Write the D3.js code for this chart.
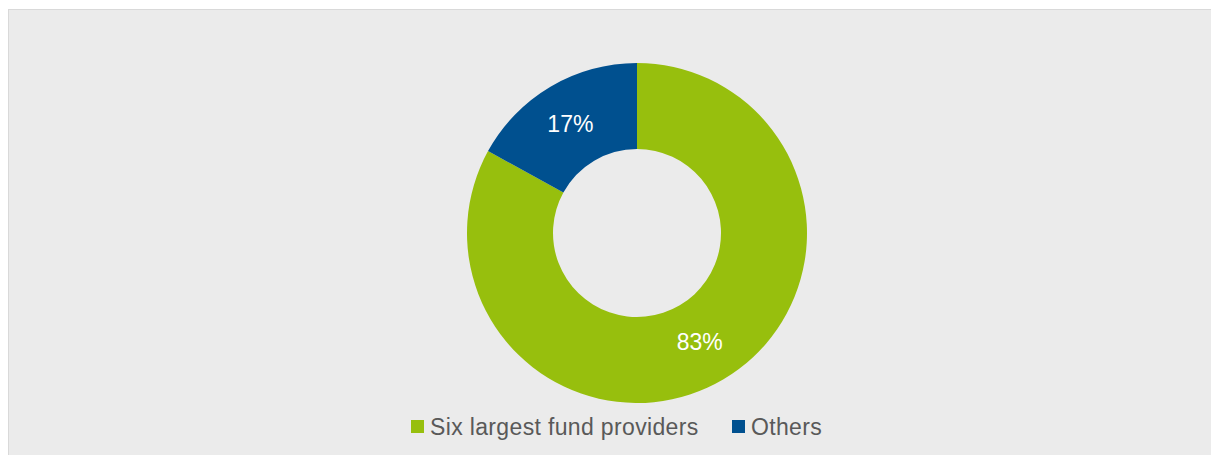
<!DOCTYPE html>
<html>
<head>
<meta charset="utf-8">
<script src="https://cdn.jsdelivr.net/npm/d3@7"></script>
<style>
  html, body { margin: 0; padding: 0; background: #ffffff; }
  svg { display: block; }
  text { font-family: "Liberation Sans", Arial, sans-serif; }
</style>
</head>
<body>
<svg id="chart" width="1211" height="455"></svg>
<script>
// Market share split
const categories = ["Six largest fund providers", "Others"];
const shares = [83, 17];
const sliceLabels = ["83%", "17%"];
const colors = ["#97bf0d", "#00508f"];

const svg = d3.select("#chart");
const W = 1211, H = 455;

// Panel background with a thin frame on top and left
svg.append("rect")
  .attr("x", 8.5).attr("y", 9.5)
  .attr("width", W).attr("height", H)
  .attr("fill", "#ebebeb")
  .attr("stroke", "#d9d9d9")
  .attr("stroke-width", 1);

const cx = 637, cy = 233;
const outerR = 170, innerR = 84;

const pie = d3.pie().sort(null).value(d => d)(shares);
const arc = d3.arc().innerRadius(innerR).outerRadius(outerR);
const labelArc = d3.arc().innerRadius((innerR + outerR) / 2).outerRadius((innerR + outerR) / 2);

const g = svg.append("g").attr("transform", `translate(${cx},${cy})`);

g.selectAll("path.slice")
  .data(pie)
  .join("path")
  .attr("class", "slice")
  .attr("d", arc)
  .attr("fill", (d, i) => colors[i]);

g.selectAll("text.val")
  .data(pie)
  .join("text")
  .attr("class", "val")
  .attr("transform", d => {
    const [x, y] = labelArc.centroid(d);
    return `translate(${x - 2},${y})`;
  })
  .attr("text-anchor", "middle")
  .attr("dy", "0.35em")
  .attr("fill", "#ffffff")
  .attr("font-size", 23)
  .text((d, i) => sliceLabels[i]);

// Legend
const legend = svg.append("g");
const legendX = [411, 732];
const items = legend.selectAll("g.item")
  .data(categories)
  .join("g")
  .attr("class", "item")
  .attr("transform", (d, i) => `translate(${legendX[i]},420)`);

items.append("rect")
  .attr("width", 13).attr("height", 13)
  .attr("fill", (d, i) => colors[i]);

items.append("text")
  .attr("x", 19)
  .attr("y", 15)
  .attr("fill", "#595959")
  .attr("font-size", 23)
  .attr("letter-spacing", 0.35)
  .text(d => d);
</script>
</body>
</html>
